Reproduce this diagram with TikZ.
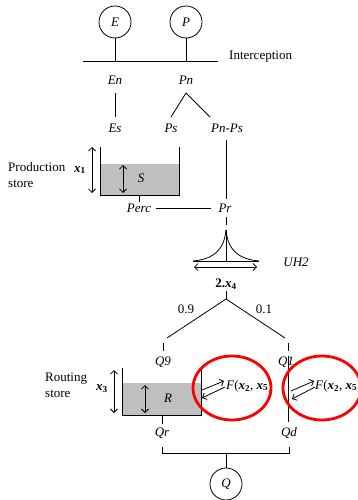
\documentclass[tikz,border=0pt]{standalone}
\usepackage{fontspec}
\setmainfont{Liberation Serif}
\usetikzlibrary{arrows.meta}
\begin{document}
\begin{tikzpicture}[x=1pt,y=-1pt,
  lab/.style={font=\fontsize{13}{15}\selectfont\itshape, inner sep=1pt},
  txt/.style={font=\fontsize{13}{16}\selectfont, inner sep=0pt, align=left},
  bx/.style={font=\fontsize{13}{15}\selectfont, inner sep=0pt},
  ln/.style={line width=0.8pt},
  dbl/.style={line width=0.8pt, {Straight Barb[length=3.5pt,width=7pt]}-{Straight Barb[length=3.5pt,width=7pt]}},
  one/.style={line width=0.8pt, -{Straight Barb[length=3.5pt,width=7pt]}},
  circ/.style={circle, draw, line width=0.8pt, minimum size=32pt, inner sep=0pt, font=\fontsize{13}{15}\selectfont\itshape},
  ring/.style={draw=red, line width=2.8pt},
  storefill/.style={fill=black!25}
]
\clip (0,0) rectangle (358,500);
\fill[white] (0,0) rectangle (358,500);

% inputs and interception
\node[circ] (E) at (115,22) {E};
\node[circ] (P) at (186,22) {P};
\coordinate (iL) at (83,61);
\coordinate (iR) at (218,61);
\coordinate (iE) at (115,61);
\coordinate (iP) at (186,61);
\draw[ln] (iL) -- (iR);
\draw[ln] (E) -- (iE);
\draw[ln] (P) -- (iP);
\node[txt, anchor=west] (int) at (229,57) {Interception};

\node[lab] (En) at (115,80) {En};
\node[lab] (Pn) at (186,80) {Pn};
\node[lab] (Es) at (115,128) {Es};
\node[lab] (Ps) at (171,128) {Ps};
\node[lab] (PnPs) at (227,128) {Pn-Ps};

\coordinate (enb) at (115,93);
\coordinate (est) at (115,117);
\draw[ln] (enb) -- (est);
\coordinate (pnb) at (186,93);
\coordinate (pst) at (171,117);
\coordinate (ppt) at (210,117);
\draw[ln] (pst) -- (pnb) -- (ppt);

% production store
\fill[storefill] (100,164) rectangle (179,195);
\draw[ln] (100,147) -- (100,195) -- (179,195) -- (179,147);
\coordinate (x1t) at (92,147);
\coordinate (x1b) at (92,193);
\draw[dbl] (x1t) -- (x1b);
\node[bx] (x1) at (80,170) {\textbf{\textit{x}}\textsubscript{\textbf{1}}};
\coordinate (st) at (123,165);
\coordinate (sb) at (123,193);
\draw[dbl] (st) -- (sb);
\node[lab] (S) at (141,178) {S};
\node[txt, anchor=west] (prodlab) at (8,175) {Production\\store};

\node[lab] (Perc) at (139,208) {Perc};
\node[lab] (Pr) at (225,208) {Pr};
\coordinate (percT) at (139,195);
\coordinate (percB) at (139,202);
\draw[ln] (percT) -- (percB);
\coordinate (pcE) at (156,208);
\coordinate (prW) at (211,208);
\draw[ln] (pcE) -- (prW);
\coordinate (pnpsB) at (226,140);
\coordinate (pnpsE) at (226,199);
\draw[ln] (pnpsB) -- (pnpsE);

% UH2
\coordinate (peak) at (226,230);
\coordinate (uhL) at (193,261);
\coordinate (uhR) at (259,261);
\coordinate (uhM) at (226,261);
\coordinate (prd) at (226,217);
\coordinate (prd2) at (226,225);
\draw[ln] (prd) -- (prd2);
\draw[ln] (uhL) -- (uhR);
\draw[ln] (peak) -- (uhM);
\draw[ln] (uhL) .. controls (214,259) and (224,250) .. (peak);
\draw[ln] (uhR) .. controls (238,259) and (228,250) .. (peak);
\coordinate (wl) at (194,267);
\coordinate (wr) at (257,267);
\draw[dbl] (wl) -- (wr);
\node[lab] (UH) at (296,262) {UH2};
\node[bx] (x4) at (226,284) {\textbf{2.}\textbf{\textit{x}}\textsubscript{\textbf{4}}};

% split
\coordinate (x4t) at (226,291);
\coordinate (split) at (226,299);
\coordinate (l9) at (167,338);
\coordinate (l1) at (285,338);
\draw[ln] (x4t) -- (split);
\draw[ln] (l9) -- (split) -- (l1);
\node[txt] (n09) at (186,309) {0.9};
\node[txt] (n01) at (264,309) {0.1};
\coordinate (t9a) at (163,343);
\coordinate (t9b) at (163,351);
\coordinate (t1a) at (288,343);
\coordinate (t1b) at (288,351);
\draw[ln] (t9a) -- (t9b);
\draw[ln] (t1a) -- (t1b);
\node[lab] (Q9) at (163,362) {Q9};
\node[lab] (Q1) at (286,362) {Q1};
\coordinate (qdT) at (288,356);
\coordinate (qdB) at (288,422);
\draw[line width=1pt] (qdT) -- (qdB);

% routing store
\fill[storefill] (122,383) rectangle (201,415);
\draw[ln] (122,368) -- (122,415) -- (201,415) -- (201,368);
\coordinate (x3t) at (114,370);
\coordinate (x3b) at (114,413);
\draw[dbl] (x3t) -- (x3b);
\node[bx] (x3) at (102,389) {\textbf{\textit{x}}\textsubscript{\textbf{3}}};
\coordinate (rt) at (145,385);
\coordinate (rb) at (145,413);
\draw[dbl] (rt) -- (rb);
\node[lab] (R) at (168,398) {R};
\node[txt, anchor=west] (routlab) at (45,385) {Routing\\store};

% exchanges
\coordinate (a1s) at (202,390);
\coordinate (a1e) at (224,381);
\coordinate (a2s) at (225,387);
\coordinate (a2e) at (202,398);
\draw[one] (a1s) -- (a1e);
\draw[one] (a2s) -- (a2e);
\node[bx, anchor=west] (F1) at (226,386) {\textit{F}(\textbf{\textit{x}}\textsubscript{\textbf{2}}, \textbf{\textit{x}}\textsubscript{\textbf{5}})};
\coordinate (b1s) at (291,391);
\coordinate (b1e) at (314,381);
\coordinate (b2s) at (315,387);
\coordinate (b2e) at (292,399);
\draw[one] (b1s) -- (b1e);
\draw[one] (b2s) -- (b2e);
\node[bx, anchor=west] (F2) at (315,386) {\textit{F}(\textbf{\textit{x}}\textsubscript{\textbf{2}}, \textbf{\textit{x}}\textsubscript{\textbf{5}})};
\draw[ring] (232,388) ellipse [x radius=39, y radius=32];
\draw[ring] (322,388) ellipse [x radius=39, y radius=32];

% outflows
\node[lab] (Qr) at (162,433) {Qr};
\node[lab] (Qd) at (289,433) {Qd};
\coordinate (qrT) at (162,415);
\coordinate (qrB) at (162,424);
\draw[ln] (qrT) -- (qrB);
\coordinate (bl) at (162,447);
\coordinate (blb) at (162,453);
\coordinate (br) at (289,447);
\coordinate (brb) at (289,453);
\coordinate (bm) at (226,453);
\draw[ln] (bl) -- (blb) -- (brb) -- (br);
\node[circ] (Q) at (226,484) {Q};
\draw[ln] (bm) -- (Q);
\end{tikzpicture}
\end{document}
